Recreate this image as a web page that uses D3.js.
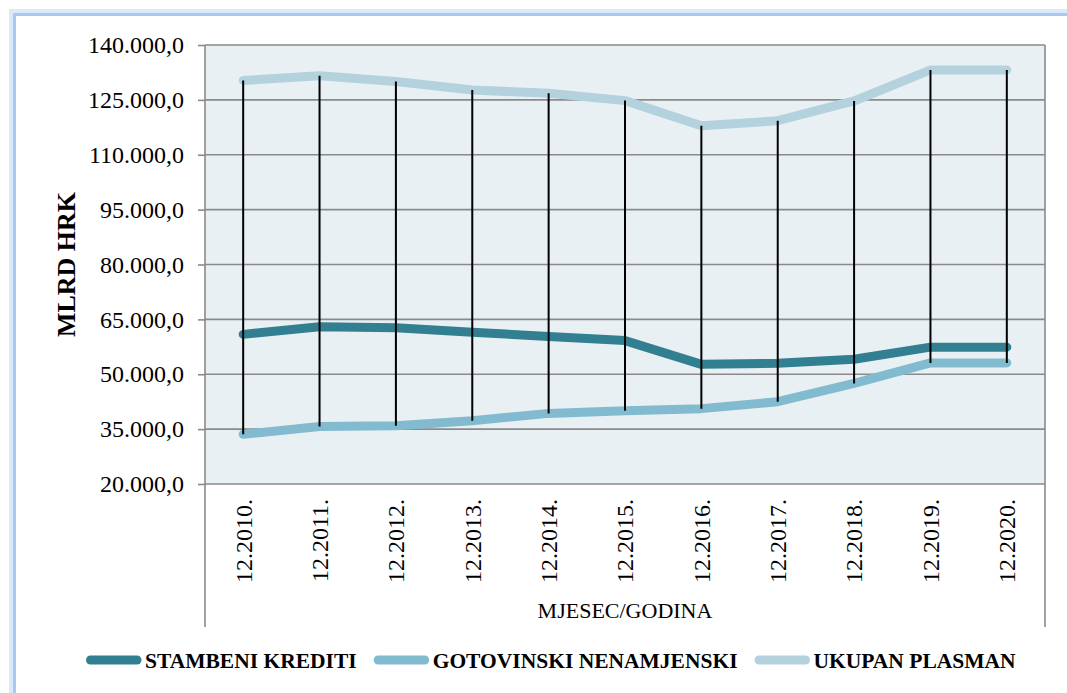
<!DOCTYPE html>
<html>
<head>
<meta charset="utf-8">
<script src="https://cdn.jsdelivr.net/npm/d3@7"></script>
<style>
  html, body { margin: 0; padding: 0; background: #ffffff; }
  svg { display: block; }
</style>
</head>
<body>
<svg id="chart" width="1067" height="693"></svg>
<script>
const categories = ["12.2010.", "12.2011.", "12.2012.", "12.2013.", "12.2014.", "12.2015.",
                    "12.2016.", "12.2017.", "12.2018.", "12.2019.", "12.2020."];
const stambeni   = [60900, 63000, 62700, 61500, 60300, 59200, 52700, 53000, 54100, 57400, 57400];
const gotovinski = [33600, 35700, 35900, 37300, 39300, 40000, 40600, 42500, 47500, 53100, 53100];
const ukupan     = [130300, 131600, 130000, 127700, 126800, 124800, 117900, 119300, 124700, 133200, 133200];
const yTicks     = [20000, 35000, 50000, 65000, 80000, 95000, 110000, 125000, 140000];
const seriesNames = ["STAMBENI KREDITI", "GOTOVINSKI NENAMJENSKI", "UKUPAN PLASMAN"];
const yTitle = "MLRD HRK";
const xTitle = "MJESEC/GODINA";

const colors = { "STAMBENI KREDITI": "#327f91", "GOTOVINSKI NENAMJENSKI": "#82bbd0", "UKUPAN PLASMAN": "#b3d2de" };
const FONT = "'Liberation Serif', 'Times New Roman', serif";

const svg = d3.select("#chart").style("font-family", FONT);
const plot = { left: 205, right: 1045, top: 45, bottom: 484, axisBottom: 627 };

// outer frame
svg.append("rect").attr("x", 12).attr("y", 12).attr("width", 1200).attr("height", 900)
  .attr("fill", "none").attr("stroke", "#dce9f9").attr("stroke-width", 6);
svg.append("rect").attr("x", 14.5).attr("y", 14.5).attr("width", 1200).attr("height", 900)
  .attr("fill", "none").attr("stroke", "#a8c9f1").attr("stroke-width", 3);

const x = d3.scalePoint().domain(categories).range([plot.left, plot.right]).padding(0.5);
const y = d3.scaleLinear().domain([20000, 140000]).range([plot.bottom, plot.top]);

const loc = d3.formatLocale({ decimal: ",", thousands: ".", grouping: [3], currency: ["", ""] });
const fmt = loc.format(",.1f");

// plot background
svg.append("rect").attr("x", plot.left).attr("y", plot.top)
  .attr("width", plot.right - plot.left).attr("height", plot.bottom - plot.top)
  .attr("fill", "#e8f0f4");

// gridlines
svg.append("g").selectAll("line").data(yTicks).join("line")
  .attr("x1", plot.left).attr("x2", plot.right)
  .attr("y1", d => y(d)).attr("y2", d => y(d))
  .attr("stroke", "#8a8a8a").attr("stroke-width", 1.6);

// y axis
const yAxis = svg.append("g").attr("transform", `translate(${plot.left},0)`)
  .call(d3.axisLeft(y).tickValues(yTicks).tickFormat(fmt).tickSize(7).tickPadding(14));
yAxis.attr("font-family", null).attr("font-size", null);
yAxis.select(".domain").remove();
yAxis.selectAll(".tick line").attr("stroke", "#8a8a8a").attr("stroke-width", 1.6);
yAxis.selectAll(".tick text").style("font-size", "24px")
  .style("font-family", FONT).attr("fill", "#000");

// left and right vertical lines
[plot.left, plot.right].forEach(xx => {
  svg.append("line").attr("x1", xx).attr("x2", xx).attr("y1", plot.top).attr("y2", plot.axisBottom)
    .attr("stroke", "#8a8a8a").attr("stroke-width", 1.6);
});

// category labels
svg.append("g").selectAll("text").data(categories).join("text")
  .attr("transform", d => `translate(${x(d)},499) rotate(-90)`)
  .attr("text-anchor", "end").attr("dy", "0.35em")
  .style("font-size", "24px").style("font-family", FONT)
  .text(d => d);

// series lines
const seriesData = [
  { name: "UKUPAN PLASMAN", values: ukupan },
  { name: "GOTOVINSKI NENAMJENSKI", values: gotovinski },
  { name: "STAMBENI KREDITI", values: stambeni }
];
const line = d3.line().x((d, i) => x(categories[i])).y(d => y(d));
svg.append("g").selectAll("path").data(seriesData).join("path")
  .attr("d", d => line(d.values))
  .attr("fill", "none")
  .attr("stroke", d => colors[d.name])
  .attr("stroke-width", 9)
  .attr("stroke-linecap", "round")
  .attr("stroke-linejoin", "round");

// high-low lines
svg.append("g").selectAll("line").data(categories).join("line")
  .attr("x1", d => x(d)).attr("x2", d => x(d))
  .attr("y1", (d, i) => y(Math.max(stambeni[i], gotovinski[i], ukupan[i])))
  .attr("y2", (d, i) => y(Math.min(stambeni[i], gotovinski[i], ukupan[i])))
  .attr("stroke", "#000").attr("stroke-width", 2);

// axis titles
svg.append("text").attr("transform", `translate(66,${(plot.top + plot.bottom) / 2}) rotate(-90)`)
  .attr("text-anchor", "middle").attr("dy", "0.35em")
  .style("font-size", "26px").style("font-weight", "bold").style("font-family", FONT)
  .text(yTitle);
svg.append("text").attr("x", (plot.left + plot.right) / 2).attr("y", 610)
  .attr("text-anchor", "middle").attr("dy", "0.35em")
  .style("font-size", "22px").style("font-family", FONT)
  .text(xTitle);

// legend
const legend = svg.append("g");
let lx = 86;
const ly = 660;
seriesNames.forEach(name => {
  legend.append("line").attr("x1", lx + 4.5).attr("x2", lx + 51).attr("y1", ly).attr("y2", ly)
    .attr("stroke", colors[name]).attr("stroke-width", 9).attr("stroke-linecap", "round");
  const t = legend.append("text").attr("x", lx + 59).attr("y", ly).attr("dy", "0.35em")
    .style("font-size", "21.5px").style("font-weight", "bold").style("font-family", FONT)
    .text(name);
  const w = t.node().getComputedTextLength();
  lx = lx + 59 + w + 17;
});
</script>
</body>
</html>
